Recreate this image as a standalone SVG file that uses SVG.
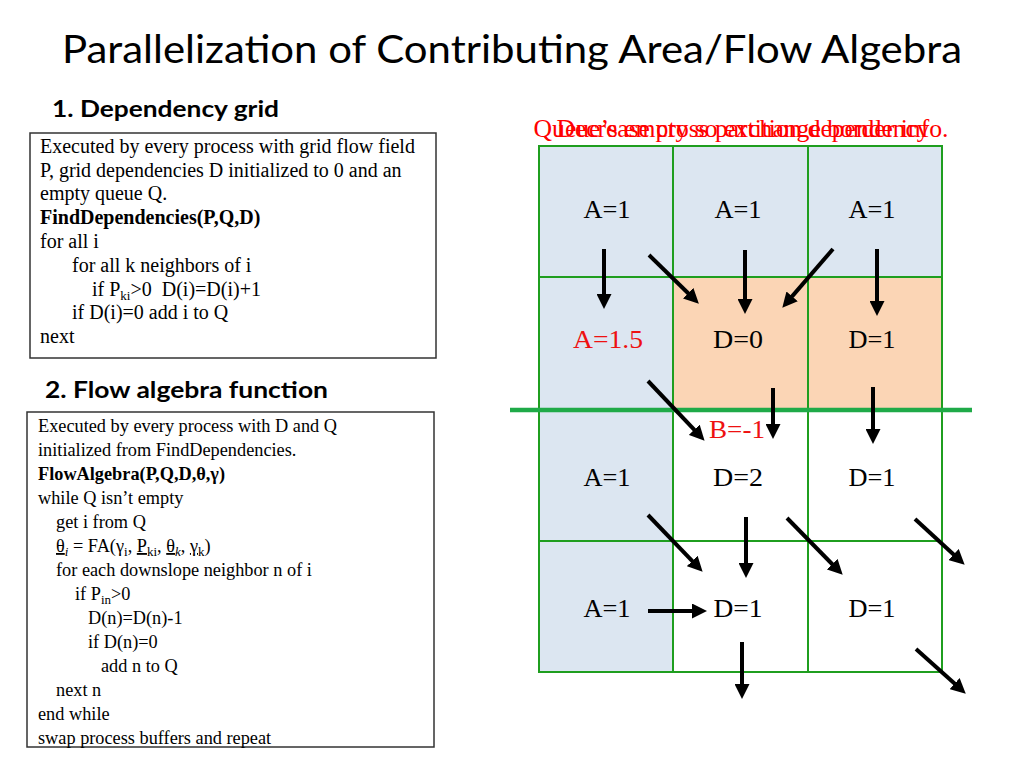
<svg xmlns="http://www.w3.org/2000/svg" width="1024" height="768" viewBox="0 0 1024 768">
<style>
.ttl{font-family:Lato,"Open Sans",sans-serif;font-size:39px;fill:#000}
.hd{font-family:Lato,"Open Sans",sans-serif;font-size:23px;font-weight:bold;fill:#000}
.code{font-family:"Liberation Serif","Times New Roman",serif;font-size:20px;fill:#000;white-space:pre}
.code2{font-family:"Liberation Serif","Times New Roman",serif;font-size:18.3px;fill:#000;white-space:pre}
.b{font-weight:bold}
.sub{font-size:13px}
.box{fill:#fff;stroke:#333;stroke-width:1.5}
.cell{stroke:#1f9e1f;stroke-width:2}
.blue{fill:#dce6f1}
.peach{fill:#fbd5b5}
.white{fill:#fff}
.lbl{font-family:"Liberation Serif","Times New Roman",serif;font-size:25px;fill:#000;text-anchor:middle}
.red{fill:#ee1111}
.note{font-family:"Liberation Serif","Times New Roman",serif;font-size:25px;fill:#ff0000;text-anchor:middle}
.arr{stroke:#000;stroke-width:4;fill:none;marker-end:url(#ah)}
</style>
<defs>
<marker id="ah" markerUnits="userSpaceOnUse" markerWidth="15" markerHeight="15" refX="4" refY="7.5" orient="auto">
<path d="M0,0 L15,7.5 L0,15 z" fill="#000"/>
</marker>
</defs>
<rect width="1024" height="768" fill="#fff"/>

<g id="title"><text class="ttl" x="62" y="63" textLength="900" lengthAdjust="spacingAndGlyphs">Parallelization of Contributing Area/Flow Algebra</text></g>

<g id="heading1"><text class="hd" x="52" y="117" textLength="227" lengthAdjust="spacingAndGlyphs">1. Dependency grid</text></g>

<g id="box1">
<rect class="box" x="30" y="133" width="406" height="225"/>
<text class="code" x="40" y="153">Executed by every process with grid flow field</text>
<text class="code" x="40" y="177">P, grid dependencies D initialized to 0 and an</text>
<text class="code" x="40" y="200">empty queue Q.</text>
<text class="code b" x="40" y="224">FindDependencies(P,Q,D)</text>
<text class="code" x="40" y="248">for all i</text>
<text class="code" x="72" y="272">for all k neighbors of i</text>
<text class="code" x="92" y="296">if P<tspan class="sub" dy="4">ki</tspan><tspan dy="-4">&gt;0  D(i)=D(i)+1</tspan></text>
<text class="code" x="72" y="319">if D(i)=0 add i to Q</text>
<text class="code" x="40" y="343">next</text>
</g>

<g id="heading2"><text class="hd" x="45" y="398" textLength="283" lengthAdjust="spacingAndGlyphs">2. Flow algebra function</text></g>

<g id="box2">
<rect class="box" x="27" y="412" width="407" height="335"/>
<text class="code2" x="38" y="432">Executed by every process with D and Q</text>
<text class="code2" x="38" y="456">initialized from FindDependencies.</text>
<text class="code2 b" x="38" y="480">FlowAlgebra(P,Q,D,θ,γ)</text>
<text class="code2" x="38" y="504">while Q isn’t empty</text>
<text class="code2" x="56" y="528">get i from Q</text>
<text class="code2" x="56" y="552"><tspan text-decoration="underline">θ</tspan><tspan class="sub" font-style="italic" dy="4">i</tspan><tspan dy="-4"> = FA(γ</tspan><tspan class="sub" dy="4">i</tspan><tspan dy="-4">, </tspan><tspan text-decoration="underline">P</tspan><tspan class="sub" dy="4">ki</tspan><tspan dy="-4">, </tspan><tspan text-decoration="underline">θ</tspan><tspan class="sub" font-style="italic" dy="4">k</tspan><tspan dy="-4">, </tspan><tspan text-decoration="underline">γ</tspan><tspan class="sub" dy="4">k</tspan><tspan dy="-4">)</tspan></text>
<text class="code2" x="56" y="576">for each downslope neighbor n of i</text>
<text class="code2" x="75" y="600">if P<tspan class="sub" dy="4">in</tspan><tspan dy="-4">&gt;0</tspan></text>
<text class="code2" x="88" y="624">D(n)=D(n)-1</text>
<text class="code2" x="88" y="648">if D(n)=0</text>
<text class="code2" x="101" y="672">add n to Q</text>
<text class="code2" x="56" y="696">next n</text>
<text class="code2" x="38" y="720">end while</text>
<text class="code2" x="38" y="744">swap process buffers and repeat</text>
</g>

<g id="notes">
<text class="note" x="741" y="137" textLength="415" lengthAdjust="spacingAndGlyphs">Queue’s empty so exchange border info.</text>
<text class="note" x="743" y="137" textLength="373" lengthAdjust="spacingAndGlyphs">Decrease cross partition dependency</text>
</g>

<g id="grid">
<g id="c11"><rect class="cell blue" x="539" y="146" width="134" height="131"/><text class="lbl" x="607" y="218" textLength="47" lengthAdjust="spacingAndGlyphs">A=1</text></g>
<g id="c12"><rect class="cell blue" x="673" y="146" width="135" height="131"/><text class="lbl" x="738" y="218" textLength="47" lengthAdjust="spacingAndGlyphs">A=1</text></g>
<g id="c13"><rect class="cell blue" x="808" y="146" width="134" height="131"/><text class="lbl" x="872" y="218" textLength="47" lengthAdjust="spacingAndGlyphs">A=1</text></g>
<g id="c21"><rect class="cell blue" x="539" y="277" width="134" height="133"/><text class="lbl red" x="608" y="348" textLength="70" lengthAdjust="spacingAndGlyphs">A=1.5</text></g>
<g id="c22"><rect class="cell peach" x="673" y="277" width="135" height="133"/><text class="lbl" x="738" y="348" textLength="50" lengthAdjust="spacingAndGlyphs">D=0</text></g>
<g id="c23"><rect class="cell peach" x="808" y="277" width="134" height="133"/><text class="lbl" x="872" y="348" textLength="47" lengthAdjust="spacingAndGlyphs">D=1</text></g>
<g id="c31"><rect class="cell blue" x="539" y="410" width="134" height="131"/><text class="lbl" x="607" y="486" textLength="47" lengthAdjust="spacingAndGlyphs">A=1</text></g>
<g id="c32"><rect class="cell white" x="673" y="410" width="135" height="131"/><text class="lbl" x="738" y="486" textLength="50" lengthAdjust="spacingAndGlyphs">D=2</text><text class="lbl red" x="737" y="438" textLength="56" lengthAdjust="spacingAndGlyphs">B=-1</text></g>
<g id="c33"><rect class="cell white" x="808" y="410" width="134" height="131"/><text class="lbl" x="872" y="486" textLength="47" lengthAdjust="spacingAndGlyphs">D=1</text></g>
<g id="c41"><rect class="cell blue" x="539" y="541" width="134" height="131"/><text class="lbl" x="607" y="617" textLength="47" lengthAdjust="spacingAndGlyphs">A=1</text></g>
<g id="c42"><rect class="cell white" x="673" y="541" width="135" height="131"/><text class="lbl" x="738" y="617" textLength="49" lengthAdjust="spacingAndGlyphs">D=1</text></g>
<g id="c43"><rect class="cell white" x="808" y="541" width="134" height="131"/><text class="lbl" x="872" y="617" textLength="47" lengthAdjust="spacingAndGlyphs">D=1</text></g>
</g>

<g id="partition"><line x1="510" y1="410" x2="972" y2="410" stroke="#1faa48" stroke-width="4.5"/></g>

<g id="connectors">
<line class="arr" x1="604" y1="249" x2="604" y2="298"/>
<line class="arr" x1="649" y1="255" x2="691" y2="296"/>
<line class="arr" x1="745" y1="250" x2="745" y2="303"/>
<line class="arr" x1="833" y1="249" x2="789.5" y2="299.4"/>
<line class="arr" x1="877" y1="249" x2="877" y2="305"/>
<line class="arr" x1="648" y1="381" x2="697" y2="432.7"/>
<line class="arr" x1="773" y1="388" x2="773" y2="428"/>
<line class="arr" x1="873" y1="387" x2="873" y2="433"/>
<line class="arr" x1="648" y1="515" x2="695" y2="563.8"/>
<line class="arr" x1="746" y1="517" x2="746" y2="567"/>
<line class="arr" x1="787" y1="518" x2="835" y2="567"/>
<line class="arr" x1="915" y1="519" x2="956.6" y2="557.2"/>
<line class="arr" x1="648" y1="611" x2="696" y2="611"/>
<line class="arr" x1="742" y1="642" x2="742" y2="688"/>
<line class="arr" x1="916" y1="649" x2="957.6" y2="686.3"/>
</g>
</svg>
